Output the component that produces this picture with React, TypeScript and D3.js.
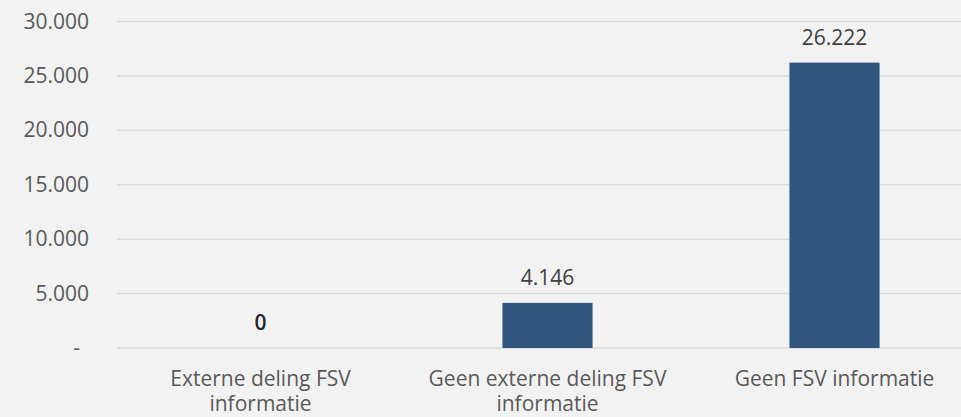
import * as d3 from "d3";

const categories = [
  ["Externe deling FSV", "informatie"],
  ["Geen externe deling FSV", "informatie"],
  ["Geen FSV informatie"],
];
const values = [0, 4146, 26222];
const ticks = [0, 5000, 10000, 15000, 20000, 25000, 30000];

const W = 961;
const H = 417;
const FONT = "'Open Sans', sans-serif";
const fmt = (v: number) => (v === 0 ? "-" : d3.format(",")(v).replace(/,/g, "."));
const fmtLabel = (v: number) => d3.format(",")(v).replace(/,/g, ".");

const App = () => {
  const x = d3
    .scaleBand<number>()
    .domain(values.map((_, i) => i))
    .range([117, 978])
    .paddingInner(0.686)
    .paddingOuter(0.343);
  const y = d3.scaleLinear().domain([0, 30000]).range([348, 21.5]);

  return (
    <svg
      width={W}
      height={H}
      style={{ position: "absolute", left: 0, top: 0, background: "#f2f2f2" }}
      fontFamily={FONT}
    >
      <rect width={W} height={H} fill="#f2f2f2" />
      {ticks.map((t) => (
        <g key={t}>
          <line x1={117} x2={W} y1={y(t)} y2={y(t)} stroke="#d9d9d9" strokeWidth={1.5} />
          <text
            x={t === 0 ? 80 : 89}
            y={y(t) + 7}
            textAnchor="end"
            fontSize={21}
            fill="#595959"
          >
            {fmt(t)}
          </text>
        </g>
      ))}
      {values.map((v, i) => (
        <g key={i}>
          <rect
            x={x(i)}
            y={y(v)}
            width={x.bandwidth()}
            height={y(0) - y(v)}
            fill="#30557f"
          />
          <text
            x={(x(i) ?? 0) + x.bandwidth() / 2}
            y={y(v) - 18}
            textAnchor="middle"
            fontSize={21}
            fontWeight={v === 0 ? 600 : 400}
            fill={v === 0 ? "#262626" : "#404040"}
          >
            {fmtLabel(v)}
          </text>
          {categories[i].map((line, j) => (
            <text
              key={j}
              x={(x(i) ?? 0) + x.bandwidth() / 2}
              y={386 + j * 25}
              textAnchor="middle"
              fontSize={21}
              fill="#595959"
            >
              {line}
            </text>
          ))}
        </g>
      ))}
    </svg>
  );
};

export default App;
